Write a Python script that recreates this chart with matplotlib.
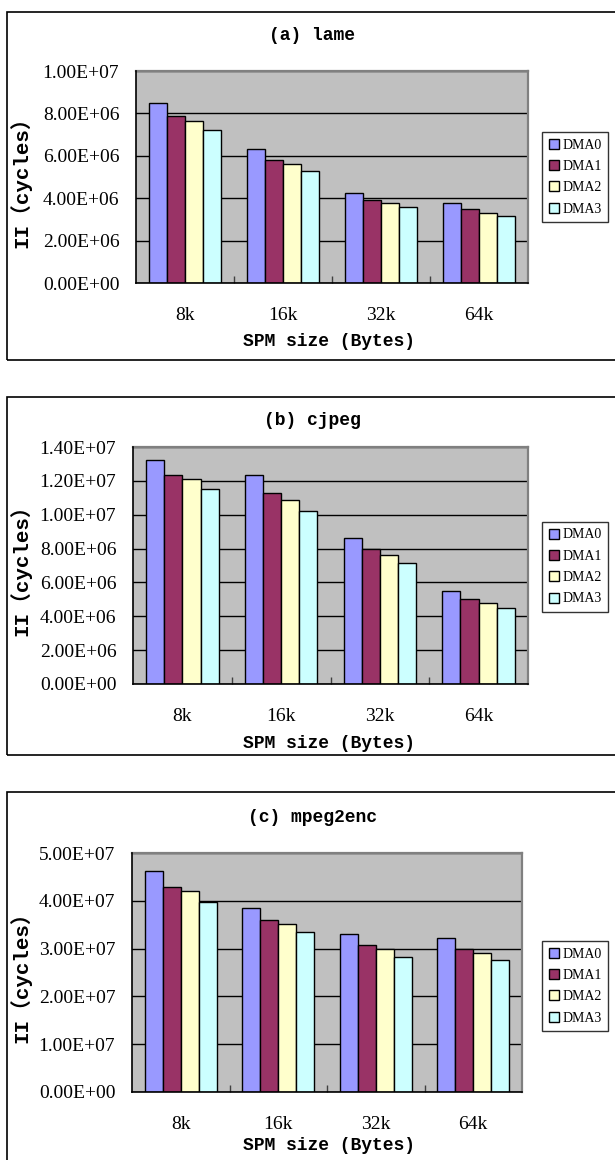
import matplotlib
matplotlib.use("Agg")
import matplotlib.pyplot as plt
from matplotlib.patches import Rectangle
import numpy as np

# data
sizes = ['8k', '16k', '32k', '64k']
series = ['DMA0', 'DMA1', 'DMA2', 'DMA3']
colors = ['#9999FF', '#993366', '#FFFFCC', '#CCFFFF']

lame = [[8.50e6, 6.33e6, 4.26e6, 3.77e6],
        [7.86e6, 5.82e6, 3.92e6, 3.47e6],
        [7.63e6, 5.63e6, 3.77e6, 3.32e6],
        [7.20e6, 5.27e6, 3.59e6, 3.15e6]]
cjpeg = [[13.22e6, 12.32e6, 8.64e6, 5.52e6],
         [12.32e6, 11.30e6, 7.98e6, 5.05e6],
         [12.12e6, 10.88e6, 7.60e6, 4.81e6],
         [11.51e6, 10.22e6, 7.15e6, 4.50e6]]
mpeg2enc = [[46.2e6, 38.5e6, 33.1e6, 32.3e6],
            [42.8e6, 36.0e6, 30.8e6, 30.0e6],
            [42.0e6, 35.1e6, 30.0e6, 29.1e6],
            [39.7e6, 33.4e6, 28.3e6, 27.7e6]]

titles = ['(a) lame', '(b) cjpeg', '(c) mpeg2enc']
y_ticks = [np.arange(0, 1.01e7, 2e6), np.arange(0, 1.41e7, 2e6), np.arange(0, 5.01e7, 1e7)]
y_ticklabels = [['0.00E+00', '2.00E+06', '4.00E+06', '6.00E+06', '8.00E+06', '1.00E+07'],
                ['0.00E+00', '2.00E+06', '4.00E+06', '6.00E+06', '8.00E+06', '1.00E+07',
                 '1.20E+07', '1.40E+07'],
                ['0.00E+00', '1.00E+07', '2.00E+07', '3.00E+07', '4.00E+07', '5.00E+07']]
panels = [lame, cjpeg, mpeg2enc]

W, H = 615, 1160
fig = plt.figure(figsize=(W / 100, H / 100), dpi=100)

mono = ['Liberation Mono', 'Noto Sans CJK SC']
serif = ['Liberation Serif', 'DejaVu Serif']

# pixel layout: axes box (left, top, right, bottom), panel frame (top, bottom), legend centre y
ax_px = [(136, 71, 528, 283), (133, 447, 528, 684), (132, 853, 522, 1092)]
frame_px = [(12, 360), (397, 755), (792, 1170)]
title_y = [36, 421, 817]
xlabel_y = [342, 743, 1145]
legend_y = [177, 567, 986]

def fx(px):
    return px / W

def fy(py):
    return 1 - py / H

for i, data in enumerate(panels):
    l, t, r, b = ax_px[i]
    ft, fb = frame_px[i]
    fig.patches.append(Rectangle((fx(7), fy(fb)), fx(640) - fx(7), fy(ft) - fy(fb),
                                 transform=fig.transFigure, fill=False,
                                 edgecolor='black', linewidth=1.2, zorder=0))

    ax = fig.add_axes([fx(l), fy(b), fx(r) - fx(l), fy(t) - fy(b)])
    ax.set_facecolor('#C0C0C0')
    x = np.arange(len(sizes))
    width = 0.184
    for k, name in enumerate(series):
        ax.bar(x + (k - 1.5) * width, data[k], width=width, color=colors[k],
               edgecolor='black', linewidth=1.0, label=name, zorder=3)

    ax.set_xlim(-0.5, len(sizes) - 0.5)
    ax.set_ylim(y_ticks[i][0], y_ticks[i][-1])
    ax.set_yticks(y_ticks[i])
    ax.set_yticklabels(y_ticklabels[i], family=serif, fontsize=14)
    ax.set_xticks(x)
    ax.set_xticklabels(sizes, family=serif, fontsize=14)
    ax.set_xticks(np.arange(0.5, len(sizes) - 1, 1), minor=True)
    ax.tick_params(axis='x', which='major', length=0, pad=17)
    ax.tick_params(axis='x', which='minor', direction='in', length=5, width=1, color='#404040')
    ax.tick_params(axis='y', length=0, pad=12)

    ax.set_axisbelow(True)
    ax.grid(axis='y', color='black', linewidth=1)
    for s in ['left', 'bottom']:
        ax.spines[s].set_color('black')
        ax.spines[s].set_linewidth(1.2)
        ax.spines[s].set_zorder(4)
    for s in ['top', 'right']:
        ax.spines[s].set_color('#808080')
        ax.spines[s].set_linewidth(1.6)

    fig.text(fx(312), fy(title_y[i]), titles[i], family=mono, fontsize=13,
             fontweight='bold', ha='center', va='center')
    fig.text(fx(329), fy(xlabel_y[i]), 'SPM size (Bytes)', family=mono, fontsize=13,
             fontweight='bold', ha='center', va='center')
    fig.text(fx(20), fy((t + b) / 2), 'II（cycles）', family=mono, fontsize=15,
             fontweight='bold', ha='center', va='center', rotation=90)

    leg = ax.legend(loc='center left', bbox_to_anchor=(fx(542), fy(legend_y[i])),
                    bbox_transform=fig.transFigure, prop={'family': serif, 'size': 10},
                    frameon=True, fancybox=False, handlelength=0.7, handleheight=0.7,
                    handletextpad=0.25, labelspacing=0.6, borderpad=0.5, borderaxespad=0)
    leg.get_frame().set_edgecolor('black')
    leg.get_frame().set_linewidth(1)

fig.savefig('out.png', dpi=100)
